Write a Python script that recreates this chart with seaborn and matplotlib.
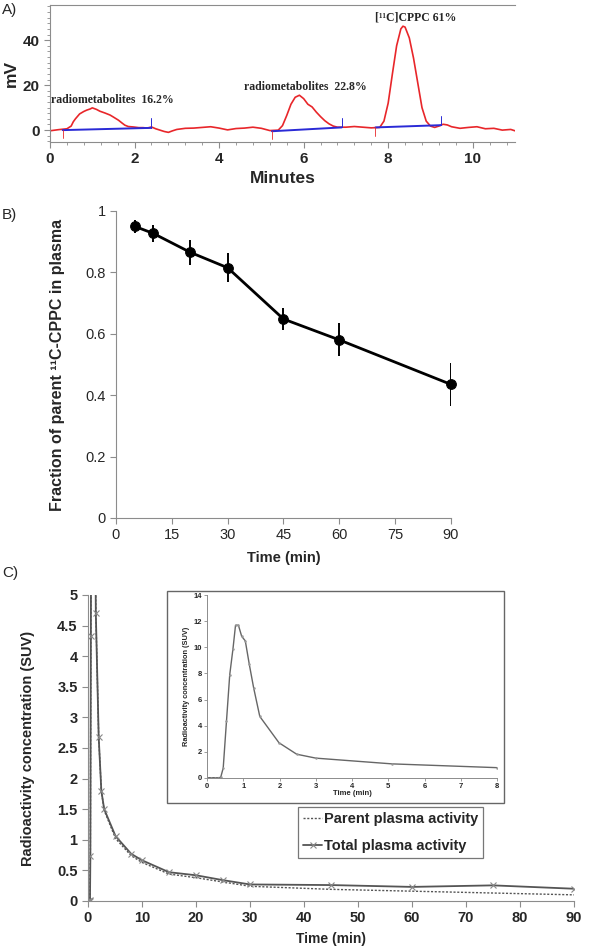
import matplotlib
matplotlib.use('Agg')
import matplotlib.pyplot as plt
from matplotlib.ticker import MultipleLocator
from matplotlib.patches import Rectangle
import pandas as pd
import seaborn as sns

# A) radio-HPLC chromatogram
chrom_time = [0.0, 0.2, 0.4, 0.5, 0.55, 0.6, 0.7, 0.8, 0.87, 0.95, 1.0, 1.1, 1.18, 1.3, 1.42,
              1.5, 1.62, 1.7, 1.77, 1.85, 1.97, 2.1, 2.2, 2.3, 2.4, 2.5, 2.6, 2.7, 2.8, 2.9,
              3.0, 3.2, 3.4, 3.6, 3.8, 4.0, 4.2, 4.4, 4.6, 4.8, 5.0, 5.2, 5.4, 5.5, 5.6,
              5.7, 5.8, 5.9, 6.0, 6.1, 6.2, 6.3, 6.4, 6.5, 6.6, 6.7, 6.8, 7.0, 7.2, 7.4,
              7.6, 7.8, 7.9, 8.0, 8.1, 8.2, 8.3, 8.35, 8.4, 8.5, 8.6, 8.7, 8.8, 8.9, 9.0,
              9.1, 9.2, 9.3, 9.4, 9.5, 9.7, 9.9, 10.1, 10.3, 10.5, 10.7, 10.9, 11.0]
chrom_mv = [-0.3, 0.2, 0.6, 1.8, 3.7, 5.0, 7.2, 8.3, 8.9, 9.4, 9.9, 9.2, 8.4, 7.6, 6.7,
            5.8, 4.4, 3.2, 2.2, 1.6, 1.4, 1.1, 1.1, 0.9, 1.4, 0.6, 0.0, -0.6, -1.0, -0.3,
            0.3, 0.8, 0.9, 1.2, 1.5, 0.9, 0.1, 0.7, 0.9, 1.3, 0.8, -0.2, 0.0, 2.0, 6.5,
            11.5, 14.6, 15.5, 14.0, 11.5, 10.3, 8.0, 6.0, 4.2, 2.8, 1.8, 1.3, 1.3, 1.6, 1.3,
            1.0, 1.2, 4.0, 12.0, 25.0, 37.5, 45.0, 46.2, 45.8, 41.0, 32.0, 21.0, 10.0, 4.0, 1.8,
            1.2, 1.8, 2.6, 2.3, 1.5, 0.8, 1.2, 1.5, 0.6, 0.8, 0.0, 0.3, -0.3]
base_start = [(0.3, 0.0), (5.25, -0.5), (7.7, 1.2)]
base_end = [(2.4, 1.0), (6.9, 1.2), (9.25, 2.2)]
peak_labels = ["radiometabolites  16.2%", "radiometabolites  22.8%", "[¹¹C]CPPC 61%"]
peak_label_pos = [(0.02, 13.3), (4.6, 19.0), (7.68, 50.0)]

# B) parent fraction in plasma
frac_time = [5, 10, 20, 30, 45, 60, 90]
frac_mean = [0.95, 0.927, 0.865, 0.815, 0.648, 0.58, 0.435]
frac_err = [0.022, 0.028, 0.041, 0.047, 0.037, 0.054, 0.07]

# C) plasma radioactivity
total_time = [0, 0.1, 0.2, 0.3, 0.37, 0.44, 0.53, 0.62, 0.71, 0.78, 0.86, 0.95, 1.05, 1.16,
              1.28, 1.45, 1.98, 2.47, 3.0, 5.1, 8.0, 10, 15, 20, 25, 30, 45, 60, 75, 90]
total_suv = [0, 0, 0, 0, 0.02, 0.74, 4.33, 7.9, 9.9, 11.7, 11.7, 10.85, 10.5, 8.7,
             6.9, 4.7, 2.68, 1.8, 1.5, 1.06, 0.77, 0.665, 0.47, 0.42, 0.34, 0.27, 0.26, 0.23, 0.255, 0.2]
parent_time = [0, 0.3, 0.37, 0.44, 0.53, 0.62, 0.71, 0.78, 0.86, 0.95, 1.05, 1.16,
               1.28, 1.45, 1.98, 2.47, 3.0, 5.1, 8.0, 10, 15, 20, 25, 30, 45, 60, 75, 90]
parent_suv = [0, 0, 0.02, 0.74, 4.33, 7.9, 9.9, 11.7, 11.7, 10.85, 10.5, 8.7,
              6.9, 4.7, 2.68, 1.8, 1.48, 1.02, 0.74, 0.63, 0.44, 0.38, 0.31, 0.24, 0.19, 0.16, 0.13, 0.1]

sns.set_style("ticks")
plt.rcParams['font.family'] = ['Liberation Sans', 'DejaVu Sans']
spine_gray = '#8c8c8c'

fig = plt.figure(figsize=(5.97, 9.52), dpi=100)

# ---------------- A ----------------
ax_a = fig.add_axes([0.0838, 0.8508, 0.7788, 0.1439])
chrom = pd.DataFrame({'t': chrom_time, 'mv': chrom_mv})
sns.lineplot(data=chrom, x='t', y='mv', ax=ax_a, color='#e8262a', lw=1.2, sort=False)
for (x0, y0), (x1, y1) in zip(base_start, base_end):
    ax_a.plot([x0, x1], [y0, y1], color='#2a2ad6', lw=1.4)
    ax_a.plot([x1, x1], [y1, y1 + 4.2], color='#2a2ad6', lw=0.7)
    ax_a.plot([x0, x0], [y0, y0 - 3.6], color='#e8262a', lw=0.6)
for txt, (x, y) in zip(peak_labels, peak_label_pos):
    ax_a.text(x, y, txt, family='Liberation Serif', weight='bold', fontsize=8.5, va='center')
ax_a.set_xlim(0, 11)
ax_a.set_ylim(-5.3, 55.6)
ax_a.xaxis.set_major_locator(MultipleLocator(2))
ax_a.xaxis.set_minor_locator(MultipleLocator(0.4))
ax_a.yaxis.set_major_locator(MultipleLocator(20))
ax_a.yaxis.set_minor_locator(MultipleLocator(2.5))
ax_a.tick_params(axis='both', which='major', labelsize=11, color=spine_gray, length=4, width=0.8)
ax_a.tick_params(axis='both', which='minor', color=spine_gray, length=2.5, width=0.6)
for lab in ax_a.get_xticklabels() + ax_a.get_yticklabels():
    lab.set_fontweight('bold')
ax_a.set_xlabel("Minutes", fontsize=12.5, weight='bold', labelpad=3)
ax_a.set_ylabel("mV", fontsize=12.5, weight='bold')
ax_a.yaxis.set_label_coords(-0.068, 0.5)
for side in ['left', 'bottom', 'top']:
    ax_a.spines[side].set_color(spine_gray)
    ax_a.spines[side].set_linewidth(0.8)
ax_a.spines['right'].set_visible(False)

# ---------------- B ----------------
ax_b = fig.add_axes([0.1943, 0.4559, 0.5611, 0.3225])
frac = pd.DataFrame({'t': frac_time, 'f': frac_mean})
ax_b.errorbar(frac_time, frac_mean, yerr=frac_err, fmt='none', ecolor='black', elinewidth=1.4, capsize=0)
sns.lineplot(data=frac, x='t', y='f', ax=ax_b, color='black', lw=2.0, marker='o',
             markersize=7, markeredgecolor='black', clip_on=False)
ax_b.set_xlim(0, 90)
ax_b.set_ylim(0, 1)
ax_b.set_xticks([0, 15, 30, 45, 60, 75, 90])
ax_b.set_yticks([0, 0.2, 0.4, 0.6, 0.8, 1])
ax_b.set_yticklabels(['0', '0.2', '0.4', '0.6', '0.8', '1'])
ax_b.tick_params(labelsize=10.5, color=spine_gray, length=4, width=0.8)
ax_b.set_xlabel("Time (min)", fontsize=10.5, weight='bold', labelpad=6)
ax_b.set_ylabel("Fraction of parent ¹¹C-CPPC in plasma", fontsize=11.5, weight='bold')
ax_b.yaxis.set_label_coords(-0.152, 0.5)
sns.despine(ax=ax_b)
for side in ['left', 'bottom']:
    ax_b.spines[side].set_color(spine_gray)
    ax_b.spines[side].set_linewidth(0.8)

# ---------------- C ----------------
ax_c = fig.add_axes([0.1474, 0.0536, 0.8141, 0.3214])
parent = pd.DataFrame({'t': parent_time, 'suv': parent_suv})
total = pd.DataFrame({'t': total_time, 'suv': total_suv})
sns.lineplot(data=parent, x='t', y='suv', ax=ax_c, color='#555555', lw=1.0,
             linestyle=(0, (1.5, 1.2)), label='Parent plasma activity')
sns.lineplot(data=total, x='t', y='suv', ax=ax_c, color='#555555', lw=1.3, marker='x',
             markersize=5, markeredgewidth=0.8, markeredgecolor='#888888',
             label='Total plasma activity')
ax_c.set_xlim(0, 90)
ax_c.set_ylim(0, 5)
ax_c.xaxis.set_major_locator(MultipleLocator(10))
ax_c.set_yticks([0, 0.5, 1, 1.5, 2, 2.5, 3, 3.5, 4, 4.5, 5])
ax_c.set_yticklabels(['0', '0.5', '1', '1.5', '2', '2.5', '3', '3.5', '4', '4.5', '5'])
ax_c.tick_params(labelsize=10.5, color=spine_gray, length=4, width=0.8)
for lab in ax_c.get_xticklabels() + ax_c.get_yticklabels():
    lab.set_fontweight('bold')
ax_c.set_xlabel("Time (min)", fontsize=10, weight='bold', labelpad=5)
ax_c.set_ylabel("Radioactivity concentration (SUV)", fontsize=10.5, weight='bold')
ax_c.yaxis.set_label_coords(-0.109, 0.5)
sns.despine(ax=ax_c)
for side in ['left', 'bottom']:
    ax_c.spines[side].set_color(spine_gray)
    ax_c.spines[side].set_linewidth(0.8)
leg = ax_c.legend(loc='upper left', bbox_to_anchor=(298 / 597, 1 - 807 / 952),
                  bbox_transform=fig.transFigure, frameon=True, fancybox=False,
                  prop={'weight': 'bold', 'size': 10.5}, handlelength=1.3, handletextpad=0.1,
                  labelspacing=0.9, borderpad=0.35, borderaxespad=0)
leg.get_frame().set_edgecolor('#555555')
leg.get_frame().set_linewidth(0.9)

# inset frame + inset axes
fig.patches.append(Rectangle((0.2797, 0.1565), 0.5645, 0.2227, transform=fig.transFigure,
                             fill=True, facecolor='white', edgecolor='#666666', lw=1.0, zorder=2))
ax_in = fig.add_axes([0.3472, 0.1831, 0.4853, 0.1916])
ax_in.set_zorder(3)
ax_in.patch.set_alpha(0)
sns.lineplot(data=total, x='t', y='suv', ax=ax_in, color='#666666', lw=1.0, marker='o',
             markersize=1.8, markeredgewidth=0, markerfacecolor='#999999')
ax_in.set_xlim(0, 8)
ax_in.set_ylim(0, 14)
ax_in.set_xticks(range(0, 9))
ax_in.set_yticks(range(0, 15, 2))
ax_in.tick_params(labelsize=5.5, color=spine_gray, length=2, width=0.6, pad=1.5)
for lab in ax_in.get_xticklabels() + ax_in.get_yticklabels():
    lab.set_fontweight('bold')
ax_in.set_xlabel("Time (min)", fontsize=5.5, weight='bold', labelpad=0)
ax_in.set_ylabel("Radioactivity concentration (SUV)", fontsize=5.3, weight='bold', labelpad=3)
sns.despine(ax=ax_in)
for side in ['left', 'bottom']:
    ax_in.spines[side].set_color(spine_gray)
    ax_in.spines[side].set_linewidth(0.7)

# panel letters
fig.text(0.003, 0.989, "A)", fontsize=11, va='center')
fig.text(0.003, 0.774, "B)", fontsize=11, va='center')
fig.text(0.003, 0.398, "C)", fontsize=11, va='center')

fig.savefig("out.png", dpi=100)
